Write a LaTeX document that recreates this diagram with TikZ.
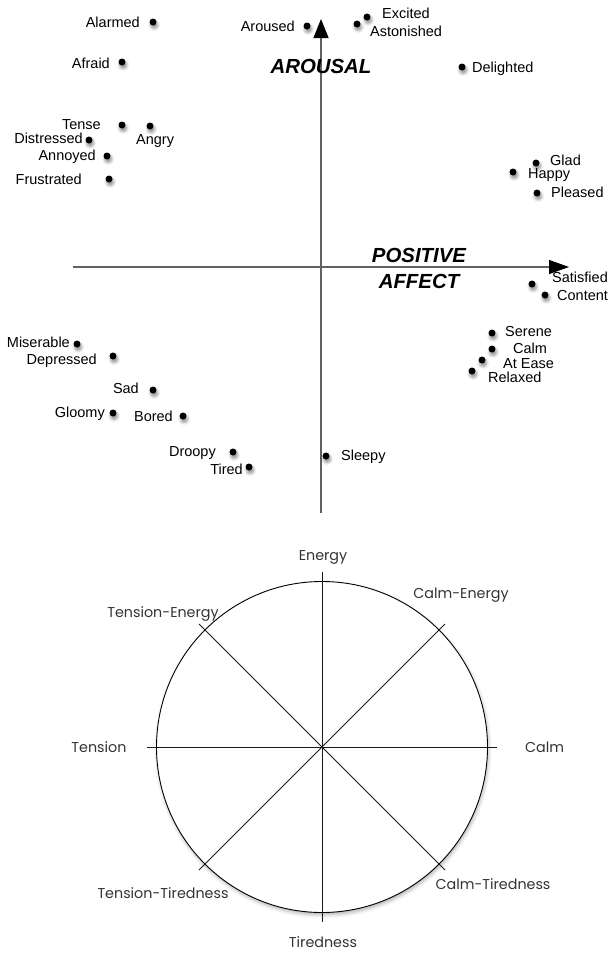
\documentclass[tikz,border=0pt]{standalone}
\usepackage{fontspec}
\setmainfont{Liberation Sans}
\newfontfamily\gothic{Poppins}
\usetikzlibrary{arrows.meta,shadows.blur}

\begin{document}
\begin{tikzpicture}[x=1pt,y=-1pt,
  dot/.style={circle,fill=black,inner sep=0pt,minimum size=7pt,
    blur shadow={shadow xshift=1.2pt,shadow yshift=-3pt,shadow opacity=45,shadow blur radius=3pt}},
  word/.style={font=\fontsize{14.5}{16}\selectfont,inner sep=0pt,text height=10.4pt,text depth=0pt},
  lw/.style={word,anchor=east},
  le/.style={word,anchor=west},
  axislabel/.style={font=\fontsize{20.4}{22}\selectfont\bfseries\itshape,inner sep=0pt,text height=14.6pt,text depth=0pt},
  axis/.style={draw=black!62,line width=1.3pt},
  mood/.style={font=\gothic\fontsize{14.3}{16}\selectfont,text=black!80,inner sep=0pt,text height=10.4pt,text depth=0pt},
  ray/.style={line width=0.8pt,draw=black!90}
]
\useasboundingbox (0,0) rectangle (610,953);

% ---------- circumplex: axes ----------
\coordinate (vbot) at (321,513);
\coordinate (vtop) at (321,19);
\coordinate (hleft) at (73,267);
\coordinate (hright) at (569,267);
\draw[axis,-{Triangle[length=19pt,width=15pt,color=black]}] (vbot) -- (vtop);
\draw[axis,-{Triangle[length=20pt,width=14pt,color=black]}] (hleft) -- (hright);

\node[axislabel] (arousal) at (321,66) {AROUSAL};
\node[axislabel] (positive) at (419,255) {POSITIVE};
\node[axislabel] (affect) at (419,281) {AFFECT};

% ---------- affect words ----------
\node[dot] (d-alarmed) at (153,22) {};
\node[lw] (t-alarmed) at (140,22) {Alarmed};
\node[dot] (d-afraid) at (122,62) {};
\node[lw] (t-afraid) at (110,63) {Afraid};
\node[dot] (d-tense) at (122,125) {};
\node[lw] (t-tense) at (101,124) {Tense};
\node[dot] (d-angry) at (150,126) {};
\node[le] (t-angry) at (136,139) {Angry};
\node[dot] (d-distressed) at (89,140) {};
\node[lw] (t-distressed) at (83,138) {Distressed};
\node[dot] (d-annoyed) at (107,156) {};
\node[lw] (t-annoyed) at (96,155) {Annoyed};
\node[dot] (d-frustrated) at (109,179) {};
\node[lw] (t-frustrated) at (82,179) {Frustrated};
\node[dot] (d-aroused) at (307,26) {};
\node[lw] (t-aroused) at (295,26) {Aroused};

\node[dot] (d-excited) at (367,17) {};
\node[le] (t-excited) at (382,13) {Excited};
\node[dot] (d-astonished) at (357,24) {};
\node[le] (t-astonished) at (370,31) {Astonished};
\node[dot] (d-delighted) at (462,67) {};
\node[le] (t-delighted) at (472,67) {Delighted};
\node[dot] (d-glad) at (536,163) {};
\node[le] (t-glad) at (550,160) {Glad};
\node[dot] (d-happy) at (513,172) {};
\node[le] (t-happy) at (528,173) {Happy};
\node[dot] (d-pleased) at (537,193) {};
\node[le] (t-pleased) at (551,192) {Pleased};

\node[dot] (d-satisfied) at (532,284) {};
\node[le] (t-satisfied) at (552,277) {Satisfied};
\node[dot] (d-content) at (545,295) {};
\node[le] (t-content) at (557,295) {Content};
\node[dot] (d-serene) at (492,333) {};
\node[le] (t-serene) at (505,331) {Serene};
\node[dot] (d-calm) at (492,349) {};
\node[le] (t-calm) at (513,348) {Calm};
\node[dot] (d-atease) at (482,360) {};
\node[le] (t-atease) at (503,363) {At Ease};
\node[dot] (d-relaxed) at (472,371) {};
\node[le] (t-relaxed) at (488,377) {Relaxed};
\node[dot] (d-sleepy) at (326,456) {};
\node[le] (t-sleepy) at (341,455) {Sleepy};

\node[dot] (d-miserable) at (77,344) {};
\node[lw] (t-miserable) at (70,342) {Miserable};
\node[dot] (d-depressed) at (113,356) {};
\node[lw] (t-depressed) at (97,359) {Depressed};
\node[dot] (d-sad) at (153,390) {};
\node[lw] (t-sad) at (139,388) {Sad};
\node[dot] (d-gloomy) at (113,413) {};
\node[lw] (t-gloomy) at (105,412) {Gloomy};
\node[dot] (d-bored) at (183,416) {};
\node[lw] (t-bored) at (173,416) {Bored};
\node[dot] (d-droopy) at (233,452) {};
\node[lw] (t-droopy) at (216,451) {Droopy};
\node[dot] (d-tired) at (249,467) {};
\node[lw] (t-tired) at (243,469) {Tired};

% ---------- mood dial ----------
\node[circle,draw=black,line width=0.9pt,fill=white,minimum size=331pt,inner sep=0pt,
  blur shadow={shadow xshift=1pt,shadow yshift=-2.5pt,shadow opacity=30,shadow blur radius=3.5pt}]
  (dial) at (322,747) {};

\coordinate (n) at (322,572);
\coordinate (s) at (322,922);
\coordinate (w) at (147,747);
\coordinate (e) at (497,747);
\coordinate (nw) at (199,624);
\coordinate (ne) at (445,624);
\coordinate (sw) at (199,870);
\coordinate (se) at (445,870);
\draw[ray] (n) -- (s);
\draw[ray] (w) -- (e);
\draw[ray] (nw) -- (se);
\draw[ray] (ne) -- (sw);

\node[mood] (energy) at (323,555) {Energy};
\node[mood] (calmenergy) at (461,593) {Calm-Energy};
\node[mood] (tensionenergy) at (163,612) {Tension-Energy};
\node[mood] (tension) at (99,747) {Tension};
\node[mood,anchor=west] (calm) at (525,747) {Calm};
\node[mood] (tensiontired) at (163,893) {Tension-Tiredness};
\node[mood] (calmtired) at (493,884) {Calm-Tiredness};
\node[mood] (tiredness) at (323,942) {Tiredness};
\end{tikzpicture}
\end{document}
